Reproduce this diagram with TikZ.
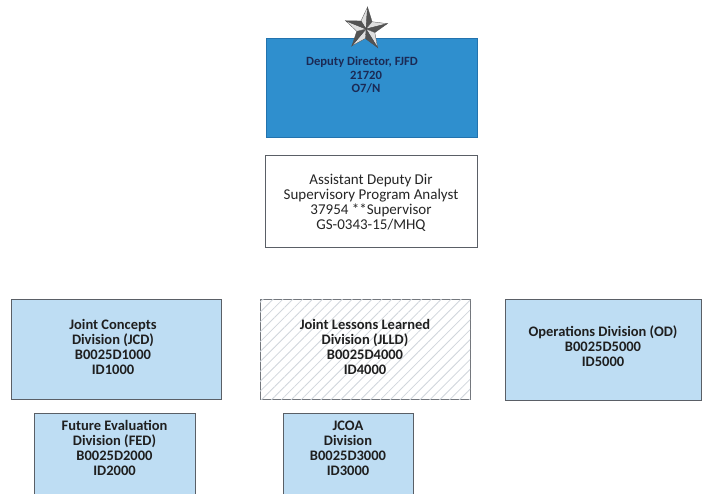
\documentclass[tikz,border=0pt]{standalone}
\usepackage{fontspec}
\setmainfont{Carlito}
\usetikzlibrary{patterns.meta}
\definecolor{topblue}{HTML}{2F8FCE}
\definecolor{topedge}{HTML}{2373AE}
\definecolor{navy}{HTML}{1B2A55}
\definecolor{lightblue}{HTML}{BEDDF3}
\definecolor{edgegray}{HTML}{5A5F66}
\definecolor{hatch}{HTML}{D0D6DC}
\tikzset{
  divbox/.style={draw=edgegray, line width=1pt, fill=lightblue, inner sep=0pt},
  hatchbox/.style={draw=edgegray!85, line width=0.8pt, fill=white, inner sep=0pt},
  divtext/.style={align=center, font=\bfseries\fontsize{14.5}{15}\selectfont, text=black!88, inner sep=0pt},
  addtext/.style={align=center, font=\fontsize{15}{15.2}\selectfont, text=black!85, inner sep=0pt},
  toptext/.style={align=center, font=\bfseries\fontsize{12.6}{13.8}\selectfont, text=navy, inner sep=0pt},
}
\begin{document}
\begin{tikzpicture}[x=1pt,y=-1pt]
\clip (0,0) rectangle (704,493);
\fill[white] (0,0) rectangle (704,493);

% Top box
\node[draw=topedge, line width=1pt, fill=topblue, minimum width=211pt, minimum height=99pt, inner sep=0pt] (dd) at (371.5,87.5) {};
\node[toptext] (ddt) at (362,75) {Deputy Director, FJFD\\\hspace*{8pt}21720\\\hspace*{8pt}O7/N};

% Star
\begin{scope}[shift={(366,29)}, rotate=-4]
\coordinate (starc) at (0,0);
\foreach \k in {0,...,4}{
  \pgfmathsetmacro{\a}{-90+72*\k}
  \fill[gray!25, draw=gray!60!black, line width=0.3pt] (starc) -- (\a:22) -- (\a-36:9.5) -- cycle;
  \fill[gray!65!black, draw=gray!60!black, line width=0.3pt] (starc) -- (\a:22) -- (\a+36:9.5) -- cycle;
}
\end{scope}

% Assistant Deputy Dir
\node[draw=edgegray, line width=0.9pt, fill=white, minimum width=212pt, minimum height=92pt, inner sep=0pt] (add) at (371,201) {};
\node[addtext] (addt) at (371,203) {Assistant Deputy Dir\\Supervisory Program Analyst\\37954 **Supervisor\\GS-0343-15/MHQ};

% Division row 1
\node[divbox, minimum width=210pt, minimum height=100pt] (jcd) at (116,349) {};
\node[divtext] (jcdt) at (113,347) {Joint Concepts\\Division (JCD)\\B0025D1000\\ID1000};

\node[hatchbox, minimum width=210pt, minimum height=100pt,
  postaction={pattern={Lines[angle=45,distance=7pt,line width=0.8pt]}, pattern color=hatch}] (jlld) at (365,349) {};
\node[divtext] (jlldt) at (365,347) {Joint Lessons Learned\\Division (JLLD)\\B0025D4000\\ID4000};

\node[divbox, minimum width=196pt, minimum height=101pt] (od) at (603,349.5) {};
\node[divtext] (odt) at (603,346) {Operations Division (OD)\\B0025D5000\\ID5000};

% Division row 2
\node[divbox, minimum width=161pt, minimum height=100pt] (fed) at (114.5,463.5) {};
\node[divtext] (fedt) at (114.5,448) {Future Evaluation\\Division (FED)\\B0025D2000\\ID2000};

\node[divbox, minimum width=130pt, minimum height=100pt] (jcoa) at (348,463) {};
\node[divtext] (jcoat) at (348,448) {JCOA\\Division\\B0025D3000\\ID3000};
\end{tikzpicture}
\end{document}
